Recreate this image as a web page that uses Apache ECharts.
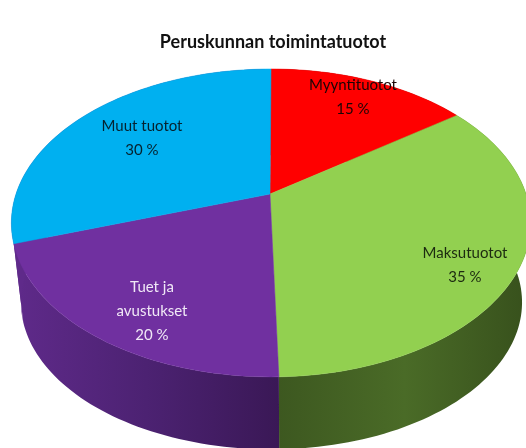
<!DOCTYPE html>
<html>
<head>
<meta charset="utf-8">
<style>html,body{margin:0;padding:0;background:#fff;overflow:hidden}#c{width:526px;height:448px;filter:blur(0.6px)}</style>
<script src="https://cdn.jsdelivr.net/npm/echarts@6/dist/echarts.min.js"></script>
</head>
<body>
<div id="c"></div>
<script>
const categories = ['Myyntituotot', 'Maksutuotot', 'Tuet ja\navustukset', 'Muut tuotot'];
const shares = [15, 34.6, 20.3, 30.1];
const topColors = ['#ff0000', '#92d050', '#7030a0', '#00b0f0'];
const wallStops = [
  ['#7a0000', '#7a0000'],
  ['#3d5820', '#4a6b27', '#37501c'],
  ['#5f2a8a', '#4c2272', '#3a1856'],
  ['#5f2a8a', '#5f2a8a']
];
const labelColors = ['#1a0505', '#1c2a10', '#f0e8f6', '#06222e'];
const labelSpots = [[353, 97], [465, 265], [152, 311], [142, 138]];

const apex = [270, 194], rimX = 271, radX = 255, radY = 148.5, persp = 0.188;
const floorApexY = 274.7, floorScaleX = 0.965, floorScaleY = 0.955, floorShiftX = 0.5;

function rim(frac, ox, oy, sx, sy) {
  const a = frac * 2 * Math.PI, u = Math.sin(a), v = Math.cos(a), d = 1 + persp * v;
  return [ox + sx * radX * u / d, oy - sy * radY * v / d];
}
function arcPts(from, to, ox, oy, sx, sy) {
  const n = Math.max(4, Math.ceil((to - from) * 240)), pts = [];
  for (let i = 0; i <= n; i++) pts.push(rim(from + (to - from) * i / n, ox, oy, sx, sy));
  return pts;
}
function bounds(i) {
  let sum = 0, tot = 0;
  shares.forEach(function (x, j) { tot += x; if (j < i) sum += x; });
  return [sum / tot, (sum + shares[i]) / tot];
}
function gradient(stops) {
  return new echarts.graphic.LinearGradient(0, 0, 1, 0,
    stops.map(function (c, i) { return { offset: i / (stops.length - 1), color: c }; }));
}
function wallItem(params, api) {
  const i = api.value(0), b = bounds(i);
  const upper = arcPts(b[0], b[1], rimX, apex[1], 1, 1);
  const lower = arcPts(b[0], b[1], rimX + floorShiftX, floorApexY, floorScaleX, floorScaleY).reverse();
  return { type: 'polygon', shape: { points: upper.concat(lower) },
    style: { fill: gradient(wallStops[i]) } };
}
function topItem(params, api) {
  const i = api.value(0), b = bounds(i);
  return { type: 'polygon', shape: { points: [apex].concat(arcPts(b[0], b[1], rimX, apex[1], 1, 1)) },
    style: { fill: topColors[i], stroke: topColors[i], lineWidth: 0.5 } };
}
function labelItem(params, api) {
  const i = api.value(0);
  return { type: 'text', x: labelSpots[i][0], y: labelSpots[i][1], z2: 10,
    style: { text: categories[i] + '\n' + Math.round(shares[i]) + ' %', align: 'center', verticalAlign: 'middle',
      fill: labelColors[i], font: '15px Lato', lineHeight: 24 } };
}
const rows = categories.map(function (c, i) { return [i]; });
const chart = echarts.init(document.getElementById('c'), null, { renderer: 'canvas' });
chart.setOption({
  animation: false,
  backgroundColor: '#ffffff',
  title: { text: 'Peruskunnan toimintatuotot', left: 268, top: 28, textAlign: 'center',
    textStyle: { fontFamily: 'Lato', fontWeight: 'bold', fontSize: 18, color: '#111111' } },
  series: [
    { type: 'custom', coordinateSystem: 'none', z: 1, renderItem: wallItem, data: rows, silent: true },
    { type: 'custom', coordinateSystem: 'none', z: 2, renderItem: topItem, data: rows, silent: true },
    { type: 'custom', coordinateSystem: 'none', z: 3, renderItem: labelItem, data: rows, silent: true }
  ]
});
</script>
</body>
</html>
